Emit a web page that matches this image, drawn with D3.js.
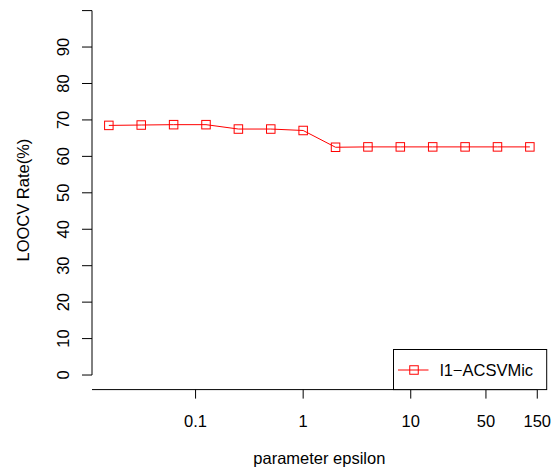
<!DOCTYPE html>
<html>
<head>
<meta charset="utf-8">
<script src="https://cdn.jsdelivr.net/npm/d3@7"></script>
<style>
  body { margin: 0; background: #fff; }
  svg text { font-family: "Liberation Sans", Arial, sans-serif; }
</style>
</head>
<body>
<svg id="chart" width="554" height="471"></svg>
<script>
// epsilon values (2^-6 ... 2^7) and LOOCV rate
const epsilon = [0.015625, 0.03125, 0.0625, 0.125, 0.25, 0.5, 1, 2, 4, 8, 16, 32, 64, 128];
const loocvRate = [68.5, 68.6, 68.7, 68.7, 67.5, 67.5, 67.1, 62.5, 62.6, 62.6, 62.6, 62.6, 62.6, 62.6];
const xTicks = [0.1, 1, 10, 50, 150];
const yTicks = [0, 10, 20, 30, 40, 50, 60, 70, 80, 90, 100];
const yTickLabels = ["0", "10", "20", "30", "40", "50", "60", "70", "80", "90", ""];
const seriesName = "l1\u2212ACSVMic";

const svg = d3.select("#chart");
const region = {left: 92, right: 546.7, top: 10.6, bottom: 389.6};
const fontSize = "16.5px";

// log axis with the usual 4% padding on each side
const lx = d3.extent(epsilon).map(Math.log10);
const pad = (lx[1] - lx[0]) * 0.04;
const x = d3.scaleLog()
    .domain([Math.pow(10, lx[0] - pad), Math.pow(10, lx[1] + pad)])
    .range([region.left, region.right]);

const y = d3.scaleLinear()
    .domain([-4, 100])
    .range([region.bottom, region.top]);

// x axis
const xAxis = svg.append("g").attr("transform", `translate(0, ${region.bottom})`);
xAxis.append("line")
    .attr("x1", region.left).attr("x2", x(150))
    .attr("stroke", "#000");
xAxis.selectAll(".tick").data(xTicks).enter().append("line")
    .attr("x1", d => x(d)).attr("x2", d => x(d))
    .attr("y1", 0).attr("y2", 9)
    .attr("stroke", "#000");
xAxis.selectAll(".lbl").data(xTicks).enter().append("text")
    .attr("x", d => x(d)).attr("y", 37)
    .attr("text-anchor", "middle")
    .attr("font-size", fontSize)
    .text(d => d);

// y axis
const yAxis = svg.append("g").attr("transform", `translate(${region.left}, 0)`);
yAxis.append("line")
    .attr("y1", y(0)).attr("y2", y(100))
    .attr("stroke", "#000");
yAxis.selectAll(".tick").data(yTicks).enter().append("line")
    .attr("x1", -10).attr("x2", 0)
    .attr("y1", d => y(d)).attr("y2", d => y(d))
    .attr("stroke", "#000");
yAxis.selectAll(".lbl").data(yTicks).enter().append("text")
    .attr("transform", d => `translate(-23, ${y(d)}) rotate(-90)`)
    .attr("text-anchor", "middle")
    .attr("font-size", fontSize)
    .text((d, i) => yTickLabels[i]);

// axis titles
svg.append("text")
    .attr("x", (region.left + region.right) / 2)
    .attr("y", 464)
    .attr("text-anchor", "middle")
    .attr("font-size", fontSize)
    .text("parameter epsilon");

svg.append("text")
    .attr("transform", `translate(29, ${(region.top + region.bottom) / 2}) rotate(-90)`)
    .attr("text-anchor", "middle")
    .attr("font-size", fontSize)
    .text("LOOCV Rate(%)");

// the series
const line = d3.line()
    .x(d => x(d[0]))
    .y(d => y(d[1]));

const pts = epsilon.map((e, i) => [e, loocvRate[i]]);

svg.append("path")
    .datum(pts)
    .attr("d", line)
    .attr("fill", "none")
    .attr("stroke", "#ff0000")
    .attr("stroke-width", 1);

const sq = 8.5;
svg.selectAll(".pt").data(pts).enter().append("rect")
    .attr("x", d => x(d[0]) - sq / 2)
    .attr("y", d => y(d[1]) - sq / 2)
    .attr("width", sq).attr("height", sq)
    .attr("fill", "none")
    .attr("stroke", "#ff0000")
    .attr("stroke-width", 1);

// legend in bottom right corner
const legend = svg.append("g");
legend.append("rect")
    .attr("x", 393.5).attr("y", 349.5)
    .attr("width", region.right - 393.5)
    .attr("height", region.bottom - 349.5)
    .attr("fill", "#fff")
    .attr("stroke", "#000");
legend.append("line")
    .attr("x1", 398).attr("x2", 428.5)
    .attr("y1", 370).attr("y2", 370)
    .attr("stroke", "#ff0000");
legend.append("rect")
    .attr("x", 414 - sq / 2).attr("y", 370 - sq / 2)
    .attr("width", sq).attr("height", sq)
    .attr("fill", "none")
    .attr("stroke", "#ff0000");
legend.append("text")
    .attr("x", 440).attr("y", 376)
    .attr("font-size", fontSize)
    .text(seriesName);
</script>
</body>
</html>
